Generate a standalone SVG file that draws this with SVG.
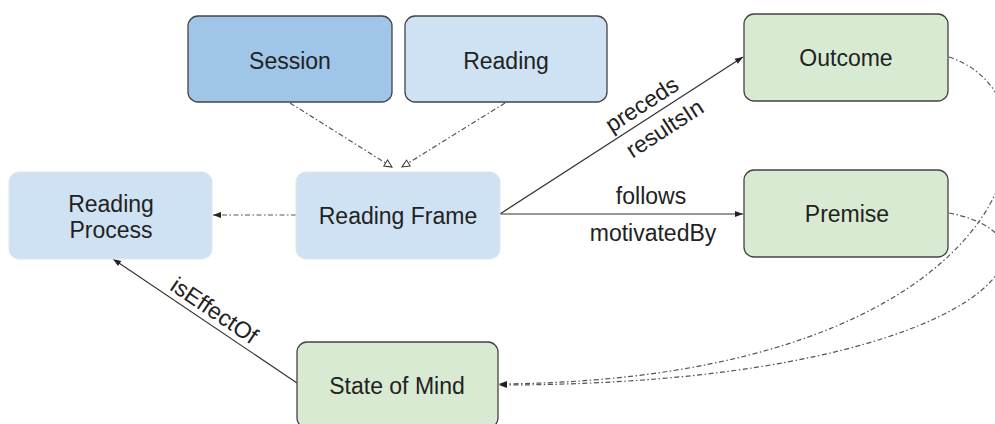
<svg xmlns="http://www.w3.org/2000/svg" width="995" height="424" viewBox="0 0 995 424">
<style>
.box{stroke:#444;stroke-width:1.3}
.nob{stroke:#dde6ee;stroke-width:1}
.blue{fill:#cfe2f3}
.dblue{fill:#9fc5e8}
.green{fill:#d9ead3}
.t{font-family:"Liberation Sans",Arial,sans-serif;font-size:23px;fill:#222;text-anchor:middle}
.lbl{font-family:"Liberation Sans",Arial,sans-serif;font-size:23px;fill:#222;text-anchor:middle}
.solid{fill:none;stroke:#333;stroke-width:1.2}
.dd{fill:none;stroke:#555;stroke-width:1.2;stroke-dasharray:5 2.5 1.5 2.5}
</style>
<defs>
<marker id="arr" markerUnits="userSpaceOnUse" markerWidth="10" markerHeight="10" viewBox="0 0 10 10" refX="9" refY="5" orient="auto">
<path d="M1,2 L9,5 L1,8 Z" fill="#222"/>
</marker>
<marker id="open" markerUnits="userSpaceOnUse" markerWidth="10" markerHeight="10" viewBox="0 0 10 10" refX="9" refY="5" orient="auto">
<path d="M1.5,1.5 L9,5 L1.5,8.5 Z" fill="#fff" stroke="#333" stroke-width="1"/>
</marker>
</defs>
<g id="connectors">
<path class="dd" d="M290,103 L392,167" marker-end="url(#open)"/>
<path class="dd" d="M505,103 L402,167" marker-end="url(#open)"/>
<path class="dd" d="M296,215 L213,215" marker-end="url(#arr)"/>
<path class="solid" d="M500,214 L743,57" marker-end="url(#arr)"/>
<path class="solid" d="M500,214 L743,214" marker-end="url(#arr)"/>
<path class="solid" d="M297,383 L113,259" marker-end="url(#arr)"/>
<path class="dd" d="M949,57 C1080,100 1020,380 499,384" marker-end="url(#arr)"/>
<path class="dd" d="M949,213 C1090,240 970,385 499,385" marker-end="url(#arr)"/>
<text class="lbl" transform="translate(646,111) rotate(-33)">preceds</text>
<text class="lbl" transform="translate(669,135) rotate(-33)">resultsIn</text>
<text class="lbl" x="651" y="204">follows</text>
<text class="lbl" x="653" y="241">motivatedBy</text>
<text class="lbl" transform="translate(210,317) rotate(34)">isEffectOf</text>
</g>
<g id="session">
<rect class="box dblue" x="188" y="16" width="204" height="86" rx="10"/>
<text class="t" x="290" y="69">Session</text>
</g>
<g id="reading">
<rect class="box blue" x="405" y="16" width="202" height="86" rx="10"/>
<text class="t" x="506" y="69">Reading</text>
</g>
<g id="outcome">
<rect class="box green" x="744" y="14" width="204" height="87" rx="10"/>
<text class="t" x="846" y="66">Outcome</text>
</g>
<g id="premise">
<rect class="box green" x="744" y="170" width="204" height="87" rx="10"/>
<text class="t" x="847" y="222">Premise</text>
</g>
<g id="reading-frame">
<rect class="nob blue" x="296" y="172" width="204" height="87" rx="10"/>
<text class="t" x="398" y="224">Reading Frame</text>
</g>
<g id="reading-process">
<rect class="nob blue" x="9" y="172" width="203" height="87" rx="10"/>
<text class="t" x="111" y="212">Reading</text>
<text class="t" x="111" y="238">Process</text>
</g>
<g id="state-of-mind">
<rect class="box green" x="297" y="342" width="201" height="86" rx="10"/>
<text class="t" x="397" y="394">State of Mind</text>
</g>
</svg>
